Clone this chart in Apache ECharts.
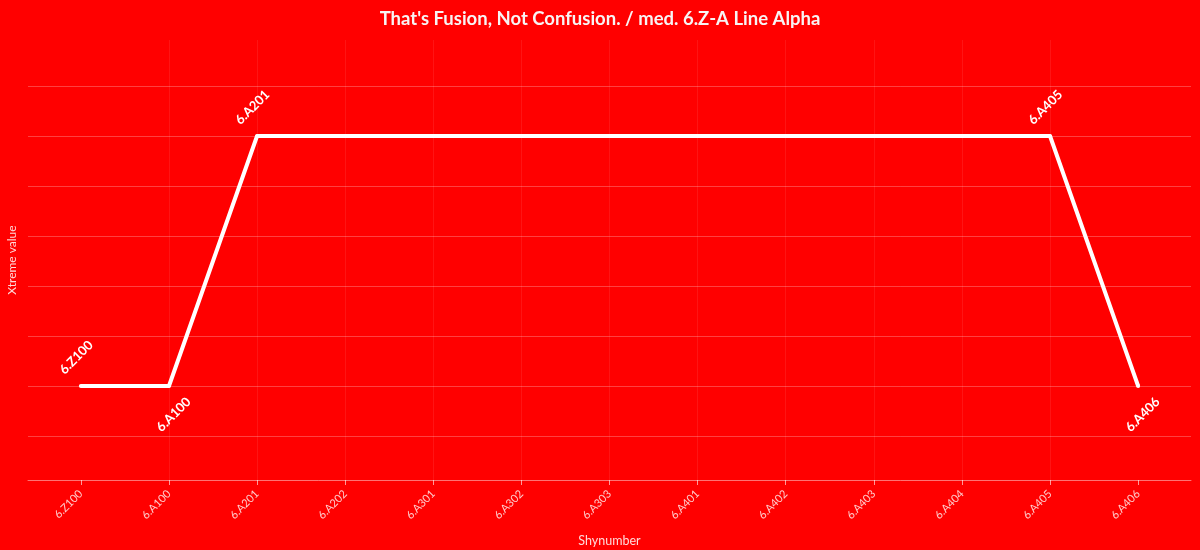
<!DOCTYPE html>
<html>
<head>
<meta charset="utf-8">
<script src="https://cdn.jsdelivr.net/npm/echarts@6/dist/echarts.min.js"></script>
<style>
  html, body { margin: 0; padding: 0; background: #ff0000; }
  #chart { width: 1200px; height: 550px; }
</style>
</head>
<body>
<div id="chart"></div>
<script>
// chart data
var categories = ['6.Z100', '6.A100', '6.A201', '6.A202', '6.A301', '6.A302', '6.A303',
                  '6.A401', '6.A402', '6.A403', '6.A404', '6.A405', '6.A406'];
var values = [1, 1, 6, null, null, null, null, null, null, null, null, 6, 1];
var tickIndex = [0, 1, 2, 3, 4, 5, 6, 7, 8, 9, 10, 11, 12];

// label above or below each point
var labelSides = ['top', 'bottom', 'top', 'top', 'top', 'top', 'top',
                  'top', 'top', 'top', 'top', 'top', 'bottom'];

var fontFamily = 'Lato, "Noto Sans", sans-serif';

var points = [];
values.forEach(function (v, i) {
    if (v === null) return;
    points.push({
        value: [i, v],
        name: categories[i],
        label: { position: labelSides[i] }
    });
});

var myChart = echarts.init(document.getElementById('chart'));

var option = {
    backgroundColor: '#ff0000',
    textStyle: { fontFamily: fontFamily },
    title: {
        text: "That's Fusion, Not Confusion. / med. 6.Z-A Line Alpha",
        left: 'center',
        top: 5,
        textStyle: {
            color: '#f8f4f4',
            fontSize: 18.5,
            fontWeight: 'bold',
            fontFamily: fontFamily
        }
    },
    grid: {
        left: 28,
        right: 9,
        top: 40,
        bottom: 70,
        containLabel: false,
        outerBoundsMode: 'none'
    },
    xAxis: {
        type: 'value',
        min: -0.6,
        max: 12.6,
        splitNumber: 13,
        name: 'Shynumber',
        nameLocation: 'middle',
        nameGap: 54,
        nameTextStyle: { color: 'rgba(255,255,255,0.85)', fontSize: 12.5 },
        axisLine: { show: true, onZero: false, lineStyle: { color: 'rgba(255,255,255,0.45)' } },
        axisTick: {
            show: true,
            length: 5,
            customValues: tickIndex,
            lineStyle: { color: 'rgba(255,255,255,0.6)' }
        },
        axisLabel: {
            customValues: tickIndex,
            rotate: 45,
            color: 'rgba(255,255,255,0.8)',
            fontSize: 11,
            margin: 12,
            formatter: function (v) {
                return categories[Math.round(v)] || '';
            }
        },
        splitLine: {
            show: true,
            showMinLine: false,
            showMaxLine: false,
            lineStyle: { color: 'rgba(255,255,255,0.08)' }
        }
    },
    yAxis: {
        type: 'value',
        min: -0.88,
        max: 7.92,
        splitNumber: 9,
        name: 'Xtreme value',
        nameLocation: 'middle',
        nameGap: 10,
        nameTextStyle: { color: 'rgba(255,255,255,0.85)', fontSize: 12 },
        axisLine: { show: false },
        axisTick: { show: false },
        axisLabel: { show: false },
        splitLine: {
            show: true,
            showMinLine: false,
            showMaxLine: false,
            lineStyle: { color: 'rgba(255,255,255,0.25)' }
        }
    },
    series: [{
        type: 'line',
        data: points,
        symbol: 'circle',
        symbolSize: 4,
        itemStyle: { color: '#ffffff' },
        lineStyle: { color: '#ffffff', width: 4 },
        label: {
            show: true,
            formatter: '{b}',
            rotate: 45,
            distance: 22,
            color: '#ffffff',
            fontSize: 13,
            fontWeight: 'bold'
        }
    }]
};

myChart.setOption(option);
</script>
</body>
</html>
